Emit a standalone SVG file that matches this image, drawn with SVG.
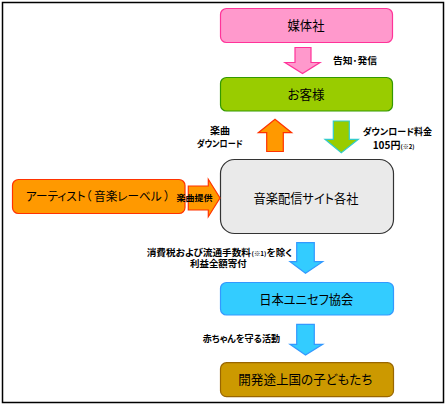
<svg xmlns="http://www.w3.org/2000/svg" width="448" height="406" viewBox="0 0 448 406">
<style>
text{font-feature-settings:"palt"}
.big{font-family:"Noto Sans CJK JP","Liberation Sans",sans-serif;font-size:13px;fill:#000;text-anchor:middle}
.sm{font-family:"Noto Sans CJK JP","Liberation Sans",sans-serif;font-size:9px;font-weight:bold;fill:#000}
.tiny{font-family:"Noto Sans CJK JP","Liberation Sans",sans-serif;font-size:6px;font-weight:bold;fill:#000}
</style>
<rect x="2.5" y="2.5" width="441" height="400" fill="#fff" stroke="#000" stroke-width="1.5"/>
<g id="media">
  <rect x="220.5" y="8.5" width="172" height="34" rx="6" fill="#ff99cc" stroke="#ff3399" stroke-width="1.2"/>
  <text class="big" x="306" y="30" textLength="37" lengthAdjust="spacingAndGlyphs">媒体社</text>
</g>
<g id="customer">
  <rect x="220.5" y="77.5" width="172" height="33.5" rx="6" fill="#99cc00" stroke="#339900" stroke-width="1.2"/>
  <text class="big" x="306" y="99" textLength="37" lengthAdjust="spacingAndGlyphs">お客様</text>
</g>
<g id="sites">
  <rect x="220.5" y="159.5" width="173" height="74" rx="14" fill="#eaeaea" stroke="#333" stroke-width="1.2"/>
  <text class="big" x="306" y="203" textLength="105" lengthAdjust="spacingAndGlyphs">音楽配信サイト各社</text>
</g>
<g id="artist">
  <rect x="12.5" y="179.5" width="172.5" height="34" rx="6" fill="#ff9900" stroke="#ff3300" stroke-width="1.2"/>
  <text class="big" x="98" y="201" style="font-size:12px" textLength="144" lengthAdjust="spacingAndGlyphs">アーティスト（ 音楽レーベル ）</text>
</g>
<g id="unicef">
  <rect x="220.5" y="282.5" width="173" height="32.5" rx="6" fill="#33ccff" stroke="#3399ff" stroke-width="1.2"/>
  <text class="big" x="306.3" y="304" textLength="94" lengthAdjust="spacingAndGlyphs">日本ユニセフ協会</text>
</g>
<g id="children">
  <rect x="220.5" y="362.7" width="173" height="34" rx="6" fill="#cc9900" stroke="#996600" stroke-width="1.2"/>
  <text class="big" x="305.3" y="384" textLength="134" lengthAdjust="spacingAndGlyphs">開発途上国の子どもたち</text>
</g>
<g id="connectors" stroke-width="1.2" stroke-linejoin="miter">
  <polygon points="295,47.5 311,47.5 311,62.5 320,62.5 302.5,73.5 285,62.5 295,62.5" fill="#ff99cc" stroke="#ff3399"/>
  <polygon points="266.7,151.5 283.3,151.5 283.3,132.7 291.7,132.7 275,119.3 258.3,132.7 266.7,132.7" fill="#ff9900" stroke="#ff3300"/>
  <polygon points="333.3,121 349.3,121 349.3,139.3 358.3,139.3 341.3,152.7 325,139.3 333.3,139.3" fill="#99cc00" stroke="#33cccc"/>
  <polygon points="188.3,186 208.3,186 208.3,179.3 220,198 208.3,216.7 208.3,210 188.3,210" fill="#ff9900" stroke="#ff3300"/>
  <polygon points="296.7,242.7 314.3,242.7 314.3,261.7 322.7,261.7 305.5,273.3 290,261.7 296.7,261.7" fill="#33ccff" stroke="#3399ff"/>
  <polygon points="296.7,324.3 314.3,324.3 314.3,344.3 322.7,344.3 305.5,355 290,344.3 296.7,344.3" fill="#33ccff" stroke="#3399ff"/>
  <text class="sm" x="333" y="63.5" textLength="44" lengthAdjust="spacingAndGlyphs">告知･発信</text>
  <text class="sm" x="210" y="134" textLength="20" lengthAdjust="spacingAndGlyphs">楽曲</text>
  <text class="sm" x="196.7" y="146.5" textLength="46" lengthAdjust="spacingAndGlyphs">ダウンロード</text>
  <text class="sm"><tspan x="362.7" y="134.5">ダウンロード料金</tspan><tspan x="372.7" y="149" style="font-size:10px">105円</tspan><tspan x="400.5" y="148.5" style="font-size:6px">(※2)</tspan></text>
  <text class="sm" x="176.5" y="201" style="font-size:8.5px" textLength="36" lengthAdjust="spacingAndGlyphs">楽曲提供</text>
  <text class="sm" x="146.7" y="255.5" textLength="104.3" lengthAdjust="spacingAndGlyphs">消費税および流通手数料</text>
  <text class="tiny" x="251.5" y="256" textLength="15" lengthAdjust="spacingAndGlyphs">(※1)</text>
  <text class="sm" x="266.7" y="255.5" textLength="25.6" lengthAdjust="spacingAndGlyphs">を除く</text>
  <text class="sm" x="190" y="267" textLength="56.7" lengthAdjust="spacingAndGlyphs">利益全額寄付</text>
  <text class="sm" x="202.7" y="341.5" textLength="77.3" lengthAdjust="spacingAndGlyphs">赤ちゃんを守る活動</text>
</g>
</svg>
